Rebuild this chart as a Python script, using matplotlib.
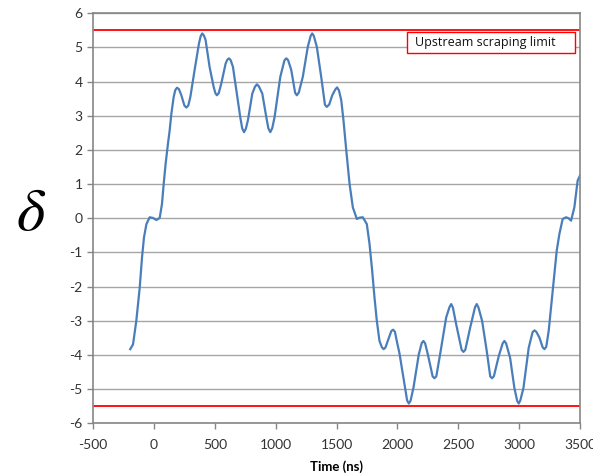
import numpy as np
from matplotlib import pyplot as plt
from matplotlib.patches import Rectangle

# values: time in ns, delta
time_ns = [-195, -172, -145, -117, -98, -82, -62, -35, -8, 20, 47, 66, 80, 96, 115, 129,
           143, 162, 175, 189, 205, 225, 250, 266, 282, 299, 334, 370, 384, 397, 410, 424,
           457, 490, 505, 517, 532, 553, 589, 603, 616, 630, 649, 681, 709, 725, 740, 755,
           772, 808, 830, 846, 862, 890, 923, 940, 956, 972, 991, 1038, 1072, 1087, 1102,
           1128, 1160, 1174, 1190, 1223, 1264, 1287, 1300, 1313, 1338, 1374, 1405, 1420,
           1440, 1465, 1490, 1505, 1520, 1539, 1557, 1580, 1607, 1634, 1667, 1690, 1716,
           1749, 1771, 1793, 1812, 1831, 1853, 1872, 1887, 1902, 1921, 1950, 1965, 1980,
           1995, 2017, 2058, 2080, 2094, 2108, 2132, 2176, 2200, 2214, 2228, 2250, 2290,
           2305, 2320, 2351, 2401, 2428, 2442, 2456, 2483, 2528, 2543, 2558, 2598, 2638,
           2652, 2666, 2696, 2734, 2763, 2778, 2793, 2833, 2865, 2879, 2893, 2926, 2961,
           2984, 2997, 3010, 3036, 3079, 3111, 3126, 3141, 3167, 3193, 3208, 3223, 3243,
           3276, 3309, 3331, 3358, 3386, 3407, 3427, 3454, 3481, 3500]
delta = [-3.83, -3.69, -3.00, -2.03, -1.14, -0.56, -0.17, 0.03, 0.01, -0.05, 0.01, 0.42,
         1.01, 1.60, 2.18, 2.57, 3.06, 3.55, 3.75, 3.82, 3.78, 3.60, 3.30, 3.24, 3.30, 3.55,
         4.34, 5.12, 5.33, 5.41, 5.35, 5.22, 4.43, 3.85, 3.66, 3.60, 3.66, 3.94, 4.53, 4.64,
         4.68, 4.63, 4.43, 3.65, 2.96, 2.63, 2.52, 2.62, 2.87, 3.65, 3.85, 3.92, 3.86, 3.65,
         2.96, 2.63, 2.52, 2.64, 2.96, 4.14, 4.62, 4.68, 4.63, 4.34, 3.67, 3.60, 3.68, 4.14,
         5.02, 5.33, 5.41, 5.34, 5.02, 4.14, 3.32, 3.26, 3.33, 3.60, 3.77, 3.83, 3.74, 3.45,
         2.87, 1.99, 1.01, 0.32, -0.02, 0.02, 0.03, -0.17, -0.75, -1.54, -2.32, -3.00, -3.59,
         -3.77, -3.83, -3.78, -3.59, -3.30, -3.26, -3.32, -3.59, -3.95, -4.86, -5.33, -5.42,
         -5.34, -4.96, -3.98, -3.65, -3.59, -3.66, -3.98, -4.63, -4.68, -4.62, -3.98, -2.90,
         -2.60, -2.51, -2.61, -3.10, -3.85, -3.91, -3.85, -3.20, -2.60, -2.51, -2.61, -3.00,
         -3.88, -4.63, -4.68, -4.62, -4.03, -3.66, -3.59, -3.66, -4.08, -4.96, -5.34, -5.42,
         -5.33, -4.96, -3.79, -3.33, -3.28, -3.32, -3.49, -3.77, -3.83, -3.76, -3.30, -2.12,
         -0.95, -0.46, -0.02, 0.03, 0.00, -0.07, 0.32, 1.10, 1.25]

limit = 5.5
x_ticks = [-500, 0, 500, 1000, 1500, 2000, 2500, 3000, 3500]
y_ticks = [-6, -5, -4, -3, -2, -1, 0, 1, 2, 3, 4, 5, 6]

plt.rcParams['font.family'] = ['Lato', 'DejaVu Sans']
plt.rcParams['axes.unicode_minus'] = False

fig = plt.figure(figsize=(5.93, 4.73), dpi=100)
ax = fig.add_axes([0.157, 0.105, 0.821, 0.867])

ax.set_axisbelow(True)
ax.grid(axis='y', color='#a6a6a6', linewidth=1.0)
ax.plot(time_ns, delta, color='#4a7ebb', linewidth=1.6)
ax.axhline(limit, color='#ff0000', linewidth=1.3)
ax.axhline(-limit, color='#ff0000', linewidth=1.3)

ax.set_xlim(-500, 3500)
ax.set_ylim(-6, 6)
ax.set_xticks(x_ticks)
ax.set_yticks(y_ticks)
for s in ax.spines.values():
    s.set_color('#868686')
    s.set_linewidth(1.2)
ax.tick_params(colors='#868686', labelcolor='#333333', labelsize=10, length=4, width=1)
ax.tick_params(axis='x', pad=7)

ax.set_xlabel('Time (ns)', fontsize=9.5, fontweight='bold', labelpad=7)

# legend-like box for the limit line
ax.add_patch(Rectangle((0.645, 0.904), 0.345, 0.051, transform=ax.transAxes,
                       facecolor='white', edgecolor='#ff0000', linewidth=1.0, zorder=5))
ax.text(0.662, 0.929, 'Upstream scraping limit', transform=ax.transAxes,
        fontsize=9, va='center', ha='left', color='#111111', zorder=6,
        family=['Open Sans', 'DejaVu Sans'])

fig.text(0.052, 0.55, r'$\delta$', fontsize=44, ha='center', va='center',
         math_fontfamily='stix')

fig.savefig('out.png', dpi=100)
